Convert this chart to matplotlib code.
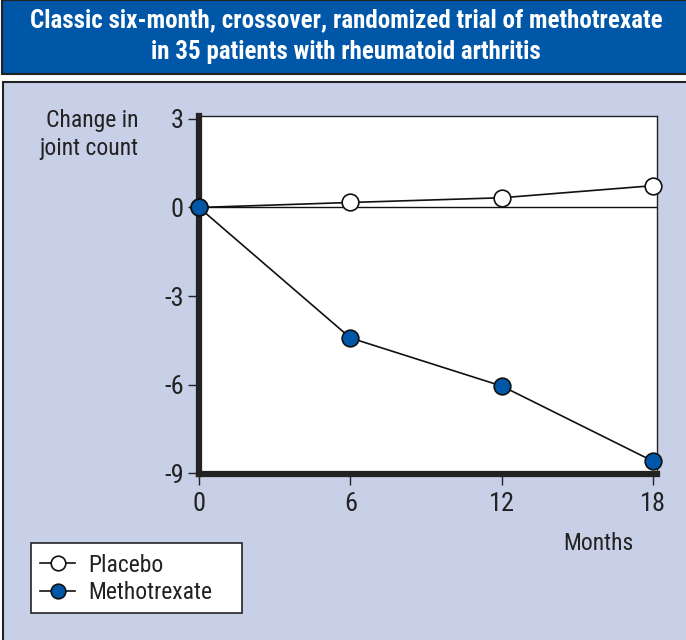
import matplotlib
matplotlib.use("Agg")
import matplotlib.pyplot as plt
from matplotlib import font_manager as fm
from matplotlib.patches import Rectangle
from matplotlib.lines import Line2D

# pick a narrow sans if one is installed
ttf = fm.fontManager.ttflist
names = {f.name for f in ttf}
prefer = ['Liberation Sans Narrow', 'Roboto Condensed', 'Open Sans Condensed', 'DejaVu Sans Condensed']
narrow = [n for n in prefer if n in names] + sorted(n for n in names if 'Narrow' in n or 'Condensed' in n)
fam = narrow[0] if narrow else 'DejaVu Sans'
plt.rcParams['font.family'] = [fam, 'DejaVu Sans']

# bold narrow face for the banner, if there is one
bold_fam = None
for n in narrow:
    if any(f.name == n and f.weight in (600, 700, 800, 'bold', 'semibold', 'heavy') for f in ttf):
        bold_fam = n
        break
title_fam = [bold_fam or fam, 'DejaVu Sans']

# data
months = [0, 6, 12, 18]
placebo = [0, 0.17, 0.33, 0.74]
methotrexate = [0, -4.42, -6.05, -8.6]
y_ticks = [3, 0, -3, -6, -9]
x_ticks = [0, 6, 12, 18]

title = "Classic six-month, crossover, randomized trial of methotrexate\nin 35 patients with rheumatoid arthritis"
blue = '#0057a8'
lavender = '#c8d0e8'
ink = '#222222'

W, H = 686, 640
fig = plt.figure(figsize=(W / 100, H / 100), dpi=100)

def fx(px):
    return px / W

def fy(py):
    return 1 - py / H

# title banner
fig.patches.append(Rectangle((fx(2), fy(74)), fx(690), 74 / H, transform=fig.transFigure,
                             facecolor=blue, edgecolor=ink, lw=1.5, zorder=-2))
fig.text(fx(346), fy(36), title, color='white', fontsize=18, fontweight='bold',
         family=title_fam, ha='center', va='center', linespacing=1.38)

# lavender panel
fig.patches.append(Rectangle((fx(3), fy(650)), fx(690), 568 / H, transform=fig.transFigure,
                             facecolor=lavender, edgecolor=ink, lw=1.5, zorder=-2))

ax = fig.add_axes([fx(199), fy(474), fx(657 - 199), (474 - 116) / H])
ax.set_zorder(1)
ax.set_facecolor('white')
ax.plot(months, placebo, color='#111111', lw=1.2, marker='o', ms=12,
        mfc='white', mec='#111111', mew=1.2, zorder=4, clip_on=False)
ax.plot(months, methotrexate, color='#111111', lw=1.2, marker='o', ms=12,
        mfc=blue, mec='#111111', mew=1.2, zorder=4, clip_on=False)
ax.axhline(0, color='#111111', lw=1.0, zorder=2)

ax.set_xlim(0, 18.15)
ax.set_ylim(-9.03, 3.1)
ax.set_xticks(x_ticks)
ax.set_yticks(y_ticks)
ax.set_yticklabels([str(v) for v in y_ticks])
ax.tick_params(direction='out', length=8, width=1, labelsize=19, pad=3, color=ink,
               labelcolor=ink)
ax.tick_params(axis='x', pad=5)
for s in ['left', 'bottom']:
    ax.spines[s].set_linewidth(4.5)
    ax.spines[s].set_color(ink)
for s in ['right', 'top']:
    ax.spines[s].set_linewidth(1.0)
    ax.spines[s].set_color(ink)

fig.text(fx(138), fy(109), "Change in\njoint count", fontsize=17, ha='right', va='top',
         linespacing=1.25, color=ink)
fig.text(fx(598), fy(543), "Months", fontsize=17, ha='center', va='center', color=ink)

# legend
fig.patches.append(Rectangle((fx(31), fy(613)), fx(242 - 31), (613 - 543) / H,
                             transform=fig.transFigure, facecolor='white',
                             edgecolor=ink, lw=1.2, zorder=-1))
handles = [Line2D([], [], color='#111111', lw=1.2, marker='o', ms=10.5, mfc='white',
                  mec='#111111', mew=1.2),
           Line2D([], [], color='#111111', lw=1.2, marker='o', ms=10.5, mfc=blue,
                  mec='#111111', mew=1.2)]
leg = fig.legend(handles, ['Placebo', 'Methotrexate'], loc='center left',
                 bbox_to_anchor=(fx(40), fy(579)), frameon=False, fontsize=17,
                 handlelength=1.5, handletextpad=0.55, labelspacing=0.2, borderpad=0.0,
                 borderaxespad=0)
for t in leg.get_texts():
    t.set_color(ink)

fig.savefig('out.png', dpi=100)
